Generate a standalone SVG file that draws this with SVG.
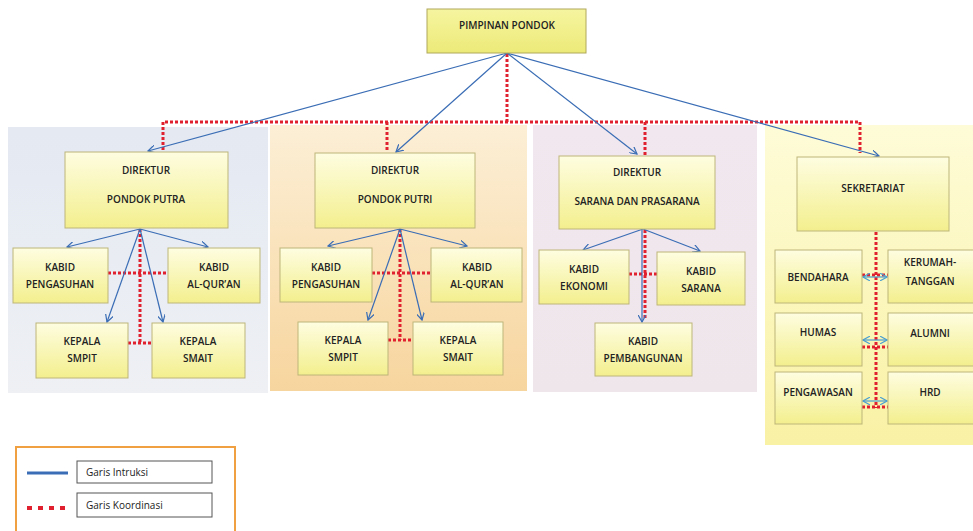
<svg xmlns="http://www.w3.org/2000/svg" width="973" height="531" viewBox="0 0 973 531">
<defs>
<linearGradient id="gNode" x1="0" y1="0" x2="0" y2="1"><stop offset="0" stop-color="#fefde0"/><stop offset="1" stop-color="#f3ef8e"/></linearGradient>
<linearGradient id="gTop" x1="0" y1="0" x2="0" y2="1"><stop offset="0" stop-color="#f6f5a0"/><stop offset="1" stop-color="#ecea78"/></linearGradient>
<linearGradient id="gP1" x1="0" y1="0" x2="0" y2="1"><stop offset="0" stop-color="#e4e9f2"/><stop offset="1" stop-color="#eef0f4"/></linearGradient>
<linearGradient id="gP2" x1="0" y1="0" x2="0" y2="1"><stop offset="0" stop-color="#fcefd6"/><stop offset="1" stop-color="#f7d59e"/></linearGradient>
<linearGradient id="gP3" x1="0" y1="0" x2="0" y2="1"><stop offset="0" stop-color="#f1e7ee"/><stop offset="1" stop-color="#efe6ec"/></linearGradient>
<linearGradient id="gP4" x1="0" y1="0" x2="0" y2="1"><stop offset="0" stop-color="#fefcd8"/><stop offset="1" stop-color="#f9f1a4"/></linearGradient>
<marker id="ah" viewBox="0 0 10 10" refX="9" refY="5" markerWidth="8" markerHeight="8" markerUnits="userSpaceOnUse" orient="auto"><path d="M0,0 L9,5 L0,10" fill="none" stroke="#3a6db5" stroke-width="1.5"/></marker>
<marker id="ah2" viewBox="0 0 10 10" refX="9" refY="5" markerWidth="8" markerHeight="8" markerUnits="userSpaceOnUse" orient="auto-start-reverse"><path d="M0,0 L9,5 L0,10" fill="none" stroke="#4a9fd0" stroke-width="1.5"/></marker>
</defs>
<style>
.node{fill:url(#gNode);stroke:#bdb67a;stroke-width:1}
.top{fill:url(#gTop);stroke:#b0a85a;stroke-width:1}
text{font-family:"Open Sans","Liberation Sans",sans-serif;font-size:10px;font-weight:600;fill:#222;text-anchor:middle}
.ins{fill:none;stroke:#3a6db5;stroke-width:1.2;marker-end:url(#ah)}
.kor{fill:none;stroke:#e0202e;stroke-width:3;stroke-dasharray:3 2}
.dbl{fill:none;stroke:#4a9fd0;stroke-width:1.2;marker-start:url(#ah2);marker-end:url(#ah2)}
.leg{font-weight:400;font-size:10px;text-anchor:start}
</style>
<rect width="973" height="531" fill="#ffffff"/>
<g id="panels">
<rect x="8" y="127" width="260" height="266" fill="url(#gP1)"/>
<rect x="270" y="125" width="257" height="266" fill="url(#gP2)"/>
<rect x="533" y="125" width="224" height="267" fill="url(#gP3)"/>
<rect x="765" y="125" width="210" height="320" fill="url(#gP4)"/>
</g>
<g id="connectors">
<path class="kor" d="M507,54 V122 M163,150 V122 H860 V153"/>
<path class="kor" d="M387,122 V152 M645,122 V155"/>
<path class="ins" d="M507,53 L148,151"/>
<path class="ins" d="M507,53 L396,152"/>
<path class="ins" d="M507,53 L637,154"/>
<path class="ins" d="M507,53 L879,156"/>
<path class="kor" d="M140,229 V343 M108,273 H168 M128,343 H152"/>
<path class="ins" d="M140,229 L67,247"/>
<path class="ins" d="M140,229 L208,247"/>
<path class="ins" d="M140,229 L107,322"/>
<path class="ins" d="M140,229 L163,322"/>
<path class="kor" d="M400,229 V340 M372,273 H431 M388,340 H413"/>
<path class="ins" d="M400,229 L328,246"/>
<path class="ins" d="M400,229 L467,246"/>
<path class="ins" d="M400,229 L368,320"/>
<path class="ins" d="M400,229 L422,320"/>
<path class="kor" d="M645,230 V320 M629,274 H657"/>
<path class="ins" d="M643,229 L583,250"/>
<path class="ins" d="M643,229 L700,251"/>
<path class="ins" d="M642,229 L642,322"/>
<path class="kor" d="M876,232 V408 M862,275 H888 M862,347 H888 M862,407 H888"/>
<path class="dbl" d="M863,277 H887"/>
<path class="dbl" d="M863,340 H887"/>
<path class="dbl" d="M863,401 H887"/>
</g>
<g id="pimpinan"><rect class="top" x="427" y="9" width="159" height="44"/><text x="507" y="29">PIMPINAN PONDOK</text></g>
<g id="dir-putra"><rect class="node" x="65" y="152" width="163" height="76"/><text x="146" y="174">DIREKTUR</text><text x="146" y="203">PONDOK PUTRA</text></g>
<g id="putra-pengasuhan"><rect class="node" x="13" y="248" width="95" height="55"/><text x="60" y="271">KABID</text><text x="60" y="288">PENGASUHAN</text></g>
<g id="putra-quran"><rect class="node" x="168" y="248" width="92" height="55"/><text x="214" y="271">KABID</text><text x="214" y="288">AL-QUR’AN</text></g>
<g id="putra-smpit"><rect class="node" x="36" y="323" width="92" height="55"/><text x="82" y="345">KEPALA</text><text x="82" y="362">SMPIT</text></g>
<g id="putra-smait"><rect class="node" x="152" y="323" width="93" height="55"/><text x="198" y="345">KEPALA</text><text x="198" y="362">SMAIT</text></g>
<g id="dir-putri"><rect class="node" x="315" y="153" width="160" height="75"/><text x="395" y="174">DIREKTUR</text><text x="395" y="203">PONDOK PUTRI</text></g>
<g id="putri-pengasuhan"><rect class="node" x="280" y="248" width="92" height="54"/><text x="326" y="271">KABID</text><text x="326" y="288">PENGASUHAN</text></g>
<g id="putri-quran"><rect class="node" x="431" y="248" width="91" height="54"/><text x="477" y="271">KABID</text><text x="477" y="288">AL-QUR’AN</text></g>
<g id="putri-smpit"><rect class="node" x="298" y="322" width="90" height="53"/><text x="343" y="344">KEPALA</text><text x="343" y="361">SMPIT</text></g>
<g id="putri-smait"><rect class="node" x="413" y="322" width="90" height="53"/><text x="458" y="344">KEPALA</text><text x="458" y="361">SMAIT</text></g>
<g id="dir-sarana"><rect class="node" x="559" y="156" width="156" height="73"/><text x="637" y="176">DIREKTUR</text><text x="637" y="205">SARANA DAN PRASARANA</text></g>
<g id="kabid-ekonomi"><rect class="node" x="539" y="250" width="90" height="54"/><text x="584" y="273">KABID</text><text x="584" y="290">EKONOMI</text></g>
<g id="kabid-sarana"><rect class="node" x="657" y="252" width="88" height="53"/><text x="701" y="275">KABID</text><text x="701" y="292">SARANA</text></g>
<g id="kabid-pembangunan"><rect class="node" x="595" y="323" width="97" height="53"/><text x="643" y="345">KABID</text><text x="643" y="362">PEMBANGUNAN</text></g>
<g id="sekretariat"><rect class="node" x="797" y="157" width="152" height="74"/><text x="873" y="192">SEKRETARIAT</text></g>
<g id="bendahara"><rect class="node" x="775" y="250" width="87" height="53"/><text x="818" y="281">BENDAHARA</text></g>
<g id="kerumahtanggan"><rect class="node" x="888" y="250" width="90" height="53"/><text x="930" y="266">KERUMAH-</text><text x="930" y="285">TANGGAN</text></g>
<g id="humas"><rect class="node" x="775" y="313" width="87" height="53"/><text x="818" y="336">HUMAS</text></g>
<g id="alumni"><rect class="node" x="888" y="313" width="90" height="53"/><text x="930" y="337">ALUMNI</text></g>
<g id="pengawasan"><rect class="node" x="775" y="372" width="87" height="52"/><text x="818" y="396">PENGAWASAN</text></g>
<g id="hrd"><rect class="node" x="888" y="372" width="90" height="52"/><text x="930" y="396">HRD</text></g>
<g id="legend">
<rect x="16" y="447" width="219" height="90" fill="#ffffff" stroke="#f0a040" stroke-width="2"/>
<line x1="27" y1="473" x2="68" y2="473" stroke="#3a6db5" stroke-width="3"/>
<rect x="77" y="461" width="135" height="22" fill="#ffffff" stroke="#555" stroke-width="1"/>
<text class="leg" x="86" y="476">Garis Intruksi</text>
<line x1="27" y1="508" x2="68" y2="508" stroke="#e0202e" stroke-width="4" stroke-dasharray="5 6"/>
<rect x="77" y="493" width="135" height="24" fill="#ffffff" stroke="#555" stroke-width="1"/>
<text class="leg" x="86" y="509">Garis Koordinasi</text>
</g>
</svg>
